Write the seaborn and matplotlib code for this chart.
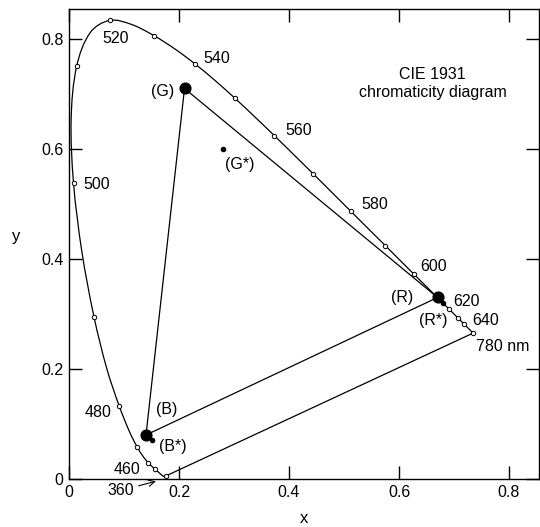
import numpy as np
import pandas as pd
import matplotlib
matplotlib.use("Agg")
import matplotlib.pyplot as plt
from matplotlib.path import Path
from matplotlib.patches import PathPatch
import seaborn as sns

# CIE 1931 spectral locus (x, y) at 5 nm steps, plus the 780 nm end
wavelength = [360, 380, 385, 390, 395, 400, 405, 410, 415, 420, 425, 430, 435, 440, 445,
              450, 455, 460, 465, 470, 475, 480, 485, 490, 495, 500, 505, 510, 515,
              520, 525, 530, 535, 540, 545, 550, 555, 560, 565, 570, 575, 580, 585,
              590, 595, 600, 605, 610, 615, 620, 625, 630, 635, 640, 645, 650, 655,
              660, 780]
locus_x = [0.1756, 0.1741, 0.1740, 0.1738, 0.1736, 0.1733, 0.1730, 0.1726, 0.1721, 0.1714,
           0.1703, 0.1689, 0.1669, 0.1644, 0.1611, 0.1566, 0.1510, 0.1440, 0.1355, 0.1241,
           0.1096, 0.0913, 0.0687, 0.0454, 0.0235, 0.0082, 0.0039, 0.0139, 0.0389, 0.0743,
           0.1142, 0.1547, 0.1929, 0.2296, 0.2658, 0.3016, 0.3373, 0.3731, 0.4087, 0.4441,
           0.4788, 0.5125, 0.5448, 0.5752, 0.6029, 0.6270, 0.6482, 0.6658, 0.6801, 0.6915,
           0.7006, 0.7079, 0.7140, 0.7190, 0.7230, 0.7260, 0.7283, 0.7300, 0.7347]
locus_y = [0.0053, 0.0050, 0.0050, 0.0049, 0.0049, 0.0048, 0.0048, 0.0048, 0.0048, 0.0051,
           0.0058, 0.0069, 0.0086, 0.0109, 0.0138, 0.0177, 0.0227, 0.0297, 0.0399, 0.0578,
           0.0868, 0.1327, 0.2007, 0.2950, 0.4127, 0.5384, 0.6548, 0.7502, 0.8120, 0.8338,
           0.8262, 0.8059, 0.7816, 0.7543, 0.7243, 0.6923, 0.6589, 0.6245, 0.5896, 0.5547,
           0.5202, 0.4866, 0.4544, 0.4242, 0.3965, 0.3725, 0.3514, 0.3340, 0.3197, 0.3083,
           0.2993, 0.2920, 0.2859, 0.2809, 0.2770, 0.2740, 0.2717, 0.2700, 0.2653]
marked_nm = [360, 450, 460, 470, 480, 490, 500, 510, 520, 530, 540, 550, 560, 570,
             580, 590, 600, 610, 620, 630, 640, 780]

# primaries
prim_names = ["(R)", "(G)", "(B)"]
prim_x = [0.67, 0.21, 0.14]
prim_y = [0.33, 0.71, 0.08]
alt_names = ["(R*)", "(G*)", "(B*)"]
alt_x = [0.68, 0.28, 0.15]
alt_y = [0.32, 0.60, 0.07]

# wavelength labels
nm_labels = ["520", "540", "560", "580", "600", "620", "640", "500", "480", "460"]
nm_lab_x = [0.084, 0.269, 0.417, 0.555, 0.6625, 0.722, 0.758, 0.050, 0.053, 0.105]
nm_lab_y = [0.801, 0.765, 0.633, 0.499, 0.386, 0.322, 0.288, 0.536, 0.121, 0.018]
prim_lab_x = [0.606, 0.170, 0.178]
prim_lab_y = [0.330, 0.704, 0.127]
alt_lab_x = [0.6625, 0.310, 0.188]
alt_lab_y = [0.289, 0.571, 0.059]

sns.set_style("ticks")
plt.rcParams["font.family"] = ["Liberation Sans", "DejaVu Sans"]
plt.rcParams["text.color"] = "black"
plt.rcParams["axes.labelcolor"] = "black"
plt.rcParams["xtick.color"] = "black"
plt.rcParams["ytick.color"] = "black"
plt.rcParams["axes.edgecolor"] = "black"

df = pd.DataFrame({"nm": wavelength, "x": locus_x, "y": locus_y})
marks = df[df["nm"].isin(marked_nm)]

fig = plt.figure(figsize=(5.4, 5.27), dpi=100)
ax = fig.add_axes([69 / 540, 48 / 527, 470 / 540, 470 / 527])

lw = 0.9

# smooth curve through the locus points (cubic bezier segments)
pts = df[["x", "y"]].to_numpy()
tang = np.zeros_like(pts)
tang[0] = pts[1] - pts[0]
tang[-1] = pts[-1] - pts[-2]
tang[1:-1] = pts[2:] - pts[:-2]
tang /= np.linalg.norm(tang, axis=1, keepdims=True)
verts = [pts[0]]
codes = [Path.MOVETO]
for i in range(len(pts) - 1):
    seg = np.linalg.norm(pts[i + 1] - pts[i])
    verts += [pts[i] + tang[i] * seg / 3, pts[i + 1] - tang[i + 1] * seg / 3, pts[i + 1]]
    codes += [Path.CURVE4] * 3
ax.add_patch(PathPatch(Path(verts, codes), facecolor="none", edgecolor="black",
                       linewidth=lw))

# purple line 360 -> 780
ends = df[df["nm"].isin([360, 780])]
sns.lineplot(data=ends, x="x", y="y", sort=False, estimator=None, color="black",
             linewidth=lw, ax=ax)

# triangle of primaries
tri_x = prim_x + [prim_x[0]]
tri_y = prim_y + [prim_y[0]]
ax.plot(tri_x, tri_y, color="black", linewidth=lw)

sns.scatterplot(data=marks, x="x", y="y", marker="o", s=10, facecolor="white",
                edgecolor="black", linewidth=0.7, ax=ax, zorder=3)
ax.scatter(prim_x, prim_y, s=60, color="black", zorder=4)
ax.scatter(alt_x, alt_y, s=9, color="black", zorder=4)

fs = 11.5
for t, x, y in zip(nm_labels, nm_lab_x, nm_lab_y):
    ax.text(x, y, t, ha="center", va="center", fontsize=fs)
for t, x, y in zip(prim_names, prim_lab_x, prim_lab_y):
    ax.text(x, y, t, ha="center", va="center", fontsize=fs)
for t, x, y in zip(alt_names, alt_lab_x, alt_lab_y):
    ax.text(x, y, t, ha="center", va="center", fontsize=fs)
ax.text(0.740, 0.2405, "780 nm", ha="left", va="center", fontsize=fs)
ax.text(0.661, 0.719, "CIE 1931\nchromaticity diagram", ha="center", va="center",
        fontsize=fs, linespacing=1.3)

ax.annotate("360", xy=(0.158, -0.004), xytext=(0.094, -0.021),
            ha="center", va="center", fontsize=fs, annotation_clip=False,
            arrowprops=dict(arrowstyle="->", color="black", lw=0.8,
                            shrinkA=1, shrinkB=0))

ticks = [0, 0.2, 0.4, 0.6, 0.8]
tick_labels = ["0", "0.2", "0.4", "0.6", "0.8"]
ax.set_xlim(0, 0.8545)
ax.set_ylim(0, 0.8545)
ax.set_xticks(ticks)
ax.set_xticklabels(tick_labels)
ax.set_yticks(ticks)
ax.set_yticklabels(tick_labels)
ax.tick_params(direction="in", length=9.5, width=1, top=True, right=True,
               labelsize=fs, pad=4)
for s in ax.spines.values():
    s.set_linewidth(1)
ax.set_xlabel("x", fontsize=12, labelpad=8)
ax.set_ylabel("y", fontsize=12, rotation=0, labelpad=18)

fig.savefig("out.png", dpi=100)
